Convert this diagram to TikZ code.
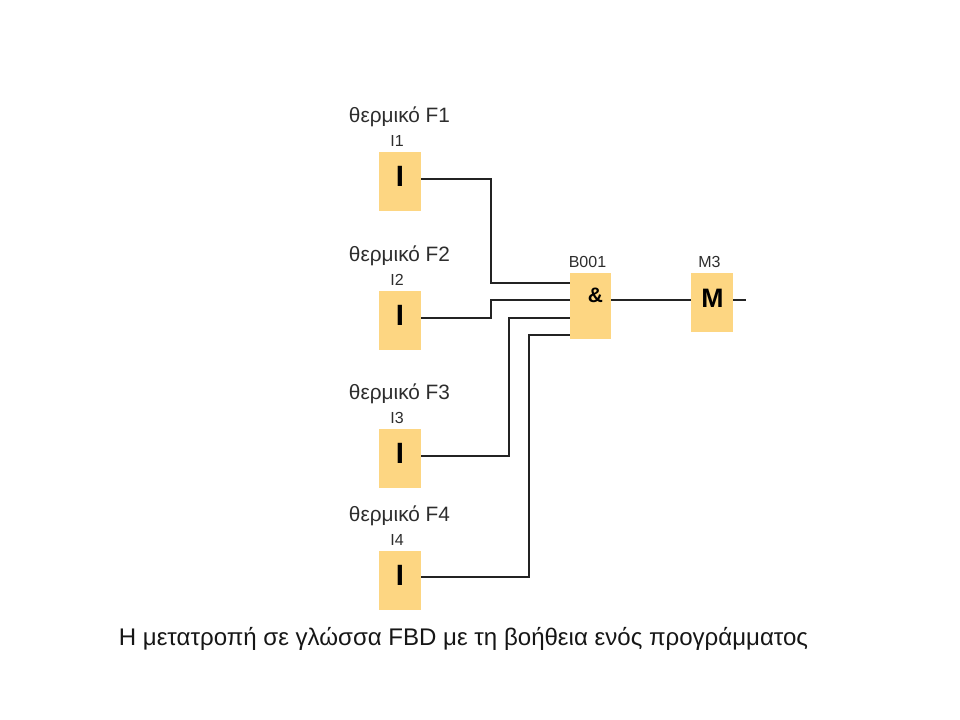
\documentclass[tikz,border=0pt]{standalone}
\usepackage{fontspec}
\setmainfont{Liberation Sans}
\usetikzlibrary{calc}
\definecolor{blockfill}{RGB}{253,214,130}
\definecolor{wirecol}{RGB}{35,35,35}
\definecolor{labelcol}{RGB}{45,45,45}
\tikzset{
  x=0.75pt,y=-0.75pt,
  block/.style={fill=blockfill,draw=none,inner sep=0pt,outer sep=0pt,anchor=north west},
  inbox/.style={block,minimum width=31.5pt,minimum height=44.25pt},
  wire/.style={draw=wirecol,line width=1.5pt,line join=miter},
  tagname/.style={text=labelcol,font=\fontsize{12}{14}\selectfont,inner sep=0pt},
  sensor/.style={text=labelcol,font=\fontsize{15.6}{18}\selectfont,inner sep=0pt},
  glyph/.style={text=black,font=\bfseries\fontsize{22}{24}\selectfont,inner sep=0pt},
}
\begin{document}
\begin{tikzpicture}
\useasboundingbox (0,0) rectangle (960,720);
\fill[white] (0,0) rectangle (960,720);
% input blocks
\node[inbox] (i1) at (379,152) {};
\node[inbox] (i2) at (379,291) {};
\node[inbox] (i3) at (379,429) {};
\node[inbox] (i4) at (379,551) {};
% gate and output
\node[block,minimum width=30.75pt,minimum height=49.5pt] (and) at (570,273) {};
\node[block,minimum width=31.5pt,minimum height=44.25pt] (m3) at (691,273) {};
\coordinate (out) at (746,300);
% glyphs
\node[glyph] (gi1) at (400,176) {I};
\node[glyph] (gi2) at (400,315) {I};
\node[glyph] (gi3) at (400,453) {I};
\node[glyph] (gi4) at (400,575) {I};
\node[glyph,font=\bfseries\fontsize{15.7}{17}\selectfont] (gand) at (595.5,295) {\&};
\node[glyph,font=\bfseries\fontsize{20}{22}\selectfont] (gm) at (712.5,298) {M};
% labels
\node[sensor] (s1) at (399.5,117) {θερμικό F1};
\node[sensor] (s2) at (399.5,256) {θερμικό F2};
\node[sensor] (s3) at (399.5,394) {θερμικό F3};
\node[sensor] (s4) at (399.5,516) {θερμικό F4};
\node[tagname] (t1) at (397,141) {I1};
\node[tagname] (t2) at (397,280) {I2};
\node[tagname] (t3) at (397,418) {I3};
\node[tagname] (t4) at (397,540) {I4};
\node[tagname] (tb) at (587.5,262) {B001};
\node[tagname] (tm) at (709.5,262) {M3};
\node[text=labelcol!50!black,font=\fontsize{18.04}{21}\selectfont,inner sep=0pt] (cap) at (463.5,639) {Η μετατροπή σε γλώσσα FBD με τη βοήθεια ενός προγράμματος};
% wires
\draw[wire] ($(i1.north east)+(0,27)$) -| (491,283) -- ($(and.north west)+(0,10)$);
\draw[wire] ($(i2.north east)+(0,27)$) -| (491,300) -- ($(and.north west)+(0,27)$);
\draw[wire] ($(i3.north east)+(0,27)$) -| (509,318) -- ($(and.north west)+(0,45)$);
\draw[wire] ($(i4.north east)+(0,26)$) -| (529,335) -- ($(and.north west)+(0,62)$);
\draw[wire] ($(and.north east)+(0,27)$) -- ($(m3.north west)+(0,27)$);
\draw[wire] ($(m3.north east)+(0,27)$) -- (out);
\end{tikzpicture}
\end{document}
